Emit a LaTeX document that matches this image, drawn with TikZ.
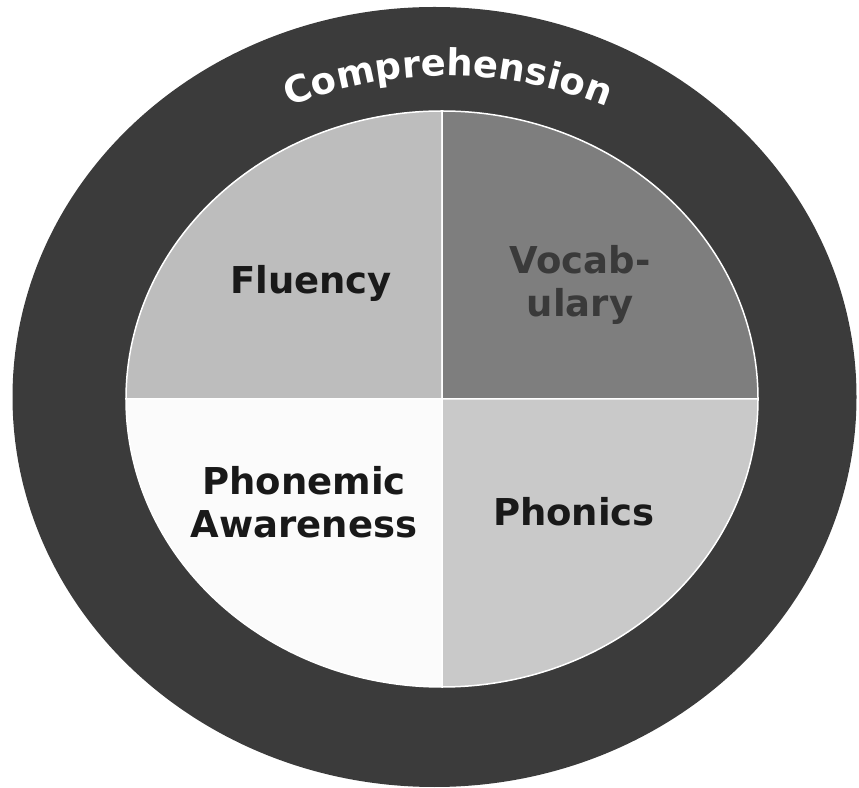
\documentclass[tikz,border=0pt]{standalone}
\usepackage{fontspec}
\setsansfont{DejaVu Sans}
\usetikzlibrary{decorations.text}
\definecolor{ringcol}{HTML}{3B3B3B}
\definecolor{fluencycol}{HTML}{BDBDBD}
\definecolor{vocabcol}{HTML}{7E7E7E}
\definecolor{phonemecol}{HTML}{FBFBFB}
\definecolor{phonicscol}{HTML}{C9C9C9}
\definecolor{vocabtext}{HTML}{3A3A3A}

\begin{document}
\begin{tikzpicture}[
  x=1pt, y=1pt,
  every node/.style={font=\sffamily\bfseries\fontsize{37}{43}\selectfont},
  skilltext/.style={align=center, inner sep=0pt, text=black!90},
  quarter/.style={draw=white, line width=1.5pt}
]
\useasboundingbox (0,0) rectangle (859,787);

%% ── Outer ring (Comprehension) ───────────────────────────────
\fill[ringcol] (434.5,390) ellipse[x radius=422, y radius=390];

%% ── Four quarters ────────────────────────────────────────────
\coordinate (mid) at (442,388);
\filldraw[quarter, fill=fluencycol] (mid) -- (126,388)
  arc[start angle=180, end angle=90, x radius=316, y radius=288] -- cycle;
\filldraw[quarter, fill=vocabcol] (mid) -- (442,676)
  arc[start angle=90, end angle=0, x radius=316, y radius=288] -- cycle;
\filldraw[quarter, fill=phonicscol] (mid) -- (758,388)
  arc[start angle=0, end angle=-90, x radius=316, y radius=288] -- cycle;
\filldraw[quarter, fill=phonemecol] (mid) -- (442,100)
  arc[start angle=270, end angle=180, x radius=316, y radius=288] -- cycle;

%% ── Labels ───────────────────────────────────────────────────
\node[skilltext] (fluency) at (311,504) {Fluency};
\node[skilltext, text=vocabtext] (vocab) at (580,502) {Vocab-\\ulary};
\node[skilltext] (phonemic) at (304,285) {Phonemic\\Awareness};
\node[skilltext] (phonics) at (574,275) {Phonics};

%% Curved title on the ring
\path[decorate, decoration={text along path, text align=center,
      text={|\sffamily\bfseries\fontsize{37}{37}\selectfont\color{white}|Comprehension}}]
  (448,291) ++(124:420) arc[start angle=124, end angle=56, radius=420];

\end{tikzpicture}
\end{document}
